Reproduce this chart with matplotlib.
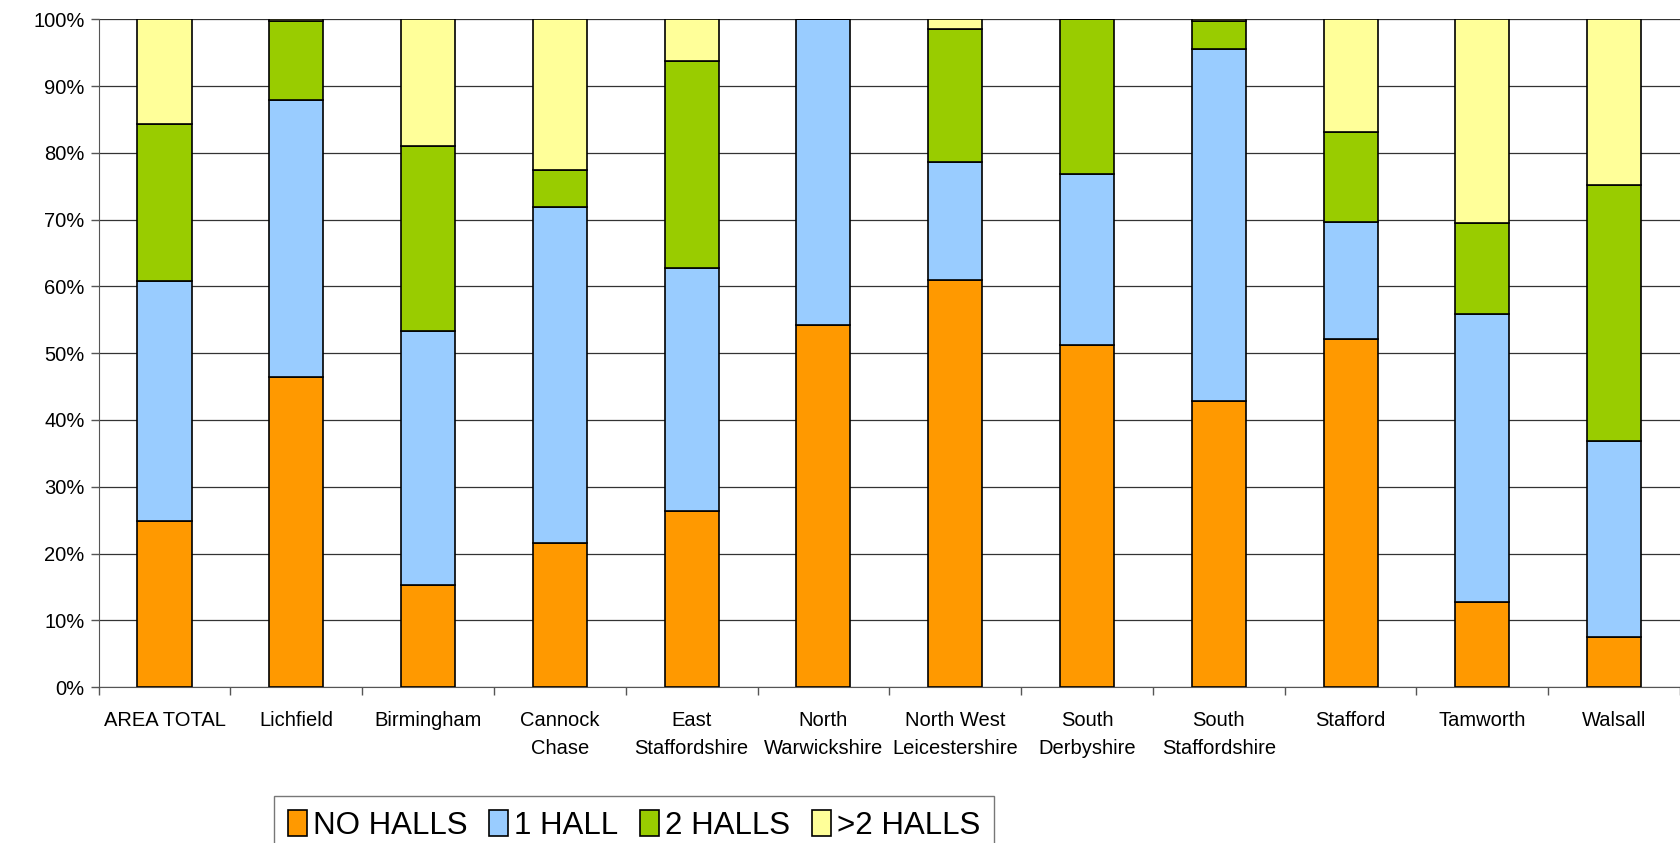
import numpy as np
import matplotlib
matplotlib.use("Agg")
import matplotlib.pyplot as plt
from matplotlib.ticker import FixedLocator, PercentFormatter

plt.rcParams['font.family'] = ['Liberation Sans', 'DejaVu Sans']

# datos (porcentajes)
categorias = ["AREA TOTAL", "Lichfield", "Birmingham", "Cannock\nChase", "East\nStaffordshire",
              "North\nWarwickshire", "North West\nLeicestershire", "South\nDerbyshire",
              "South\nStaffordshire", "Stafford", "Tamworth", "Walsall"]
no_halls = [24.9, 46.4, 15.3, 21.6, 26.3, 54.2, 61.0, 51.2, 42.8, 52.1, 12.8, 7.5]
one_hall = [35.9, 41.6, 38.0, 50.3, 36.5, 45.8, 17.7, 25.7, 52.7, 17.6, 43.1, 29.3]
two_halls = [23.6, 11.7, 27.8, 5.6, 30.9, 0.0, 19.8, 23.1, 4.2, 13.5, 13.6, 38.4]
more_halls = [15.6, 0.3, 18.9, 22.5, 6.3, 0.0, 1.5, 0.0, 0.3, 16.8, 30.5, 24.8]

series = [("NO HALLS", no_halls, "#FF9900"),
          ("1 HALL", one_hall, "#99CCFF"),
          ("2 HALLS", two_halls, "#99CC00"),
          (">2 HALLS", more_halls, "#FFFF99")]

fig = plt.figure(figsize=(16.8, 8.43), dpi=100)
ax = fig.add_axes([0.0587, 0.185, 0.9413, 0.792])

x = np.arange(len(categorias))
bottom = np.zeros(len(categorias))
for nombre, valores, color in series:
    ax.bar(x, valores, width=0.41, bottom=bottom, color=color, edgecolor="black",
           linewidth=1.2, label=nombre, zorder=3)
    bottom += np.array(valores)

ax.set_xlim(-0.5, len(categorias) - 0.5)
ax.set_ylim(0, 100)
ax.set_yticks(np.arange(0, 101, 10))
ax.yaxis.set_major_formatter(PercentFormatter(decimals=0))
ax.grid(axis='y', color='#333333', linewidth=0.9, zorder=0)

ax.set_xticks(x)
ax.set_xticklabels(categorias, fontsize=14.5, linespacing=1.65, va='top')
ax.tick_params(axis='x', which='major', length=0, pad=17)
ax.xaxis.set_minor_locator(FixedLocator(np.arange(-0.5, len(categorias), 1)))
ax.tick_params(axis='x', which='minor', length=6, color='#555555', width=1)
ax.tick_params(axis='y', labelsize=14.5, length=6, color='#555555', width=1, pad=4)

for lado in ['top', 'right']:
    ax.spines[lado].set_visible(False)
ax.spines['left'].set_color('#555555')
ax.spines['bottom'].set_color('#555555')

leg = fig.legend(loc='upper left', bbox_to_anchor=(0.163, 0.0557), ncol=4, fontsize=22.5,
                 frameon=True, fancybox=False, edgecolor='#555555', handlelength=0.6,
                 handleheight=0.9, handletextpad=0.2, columnspacing=0.7, borderpad=0.45,
                 borderaxespad=0)
leg.get_frame().set_linewidth(1.0)

fig.savefig("out.png", dpi=100)
